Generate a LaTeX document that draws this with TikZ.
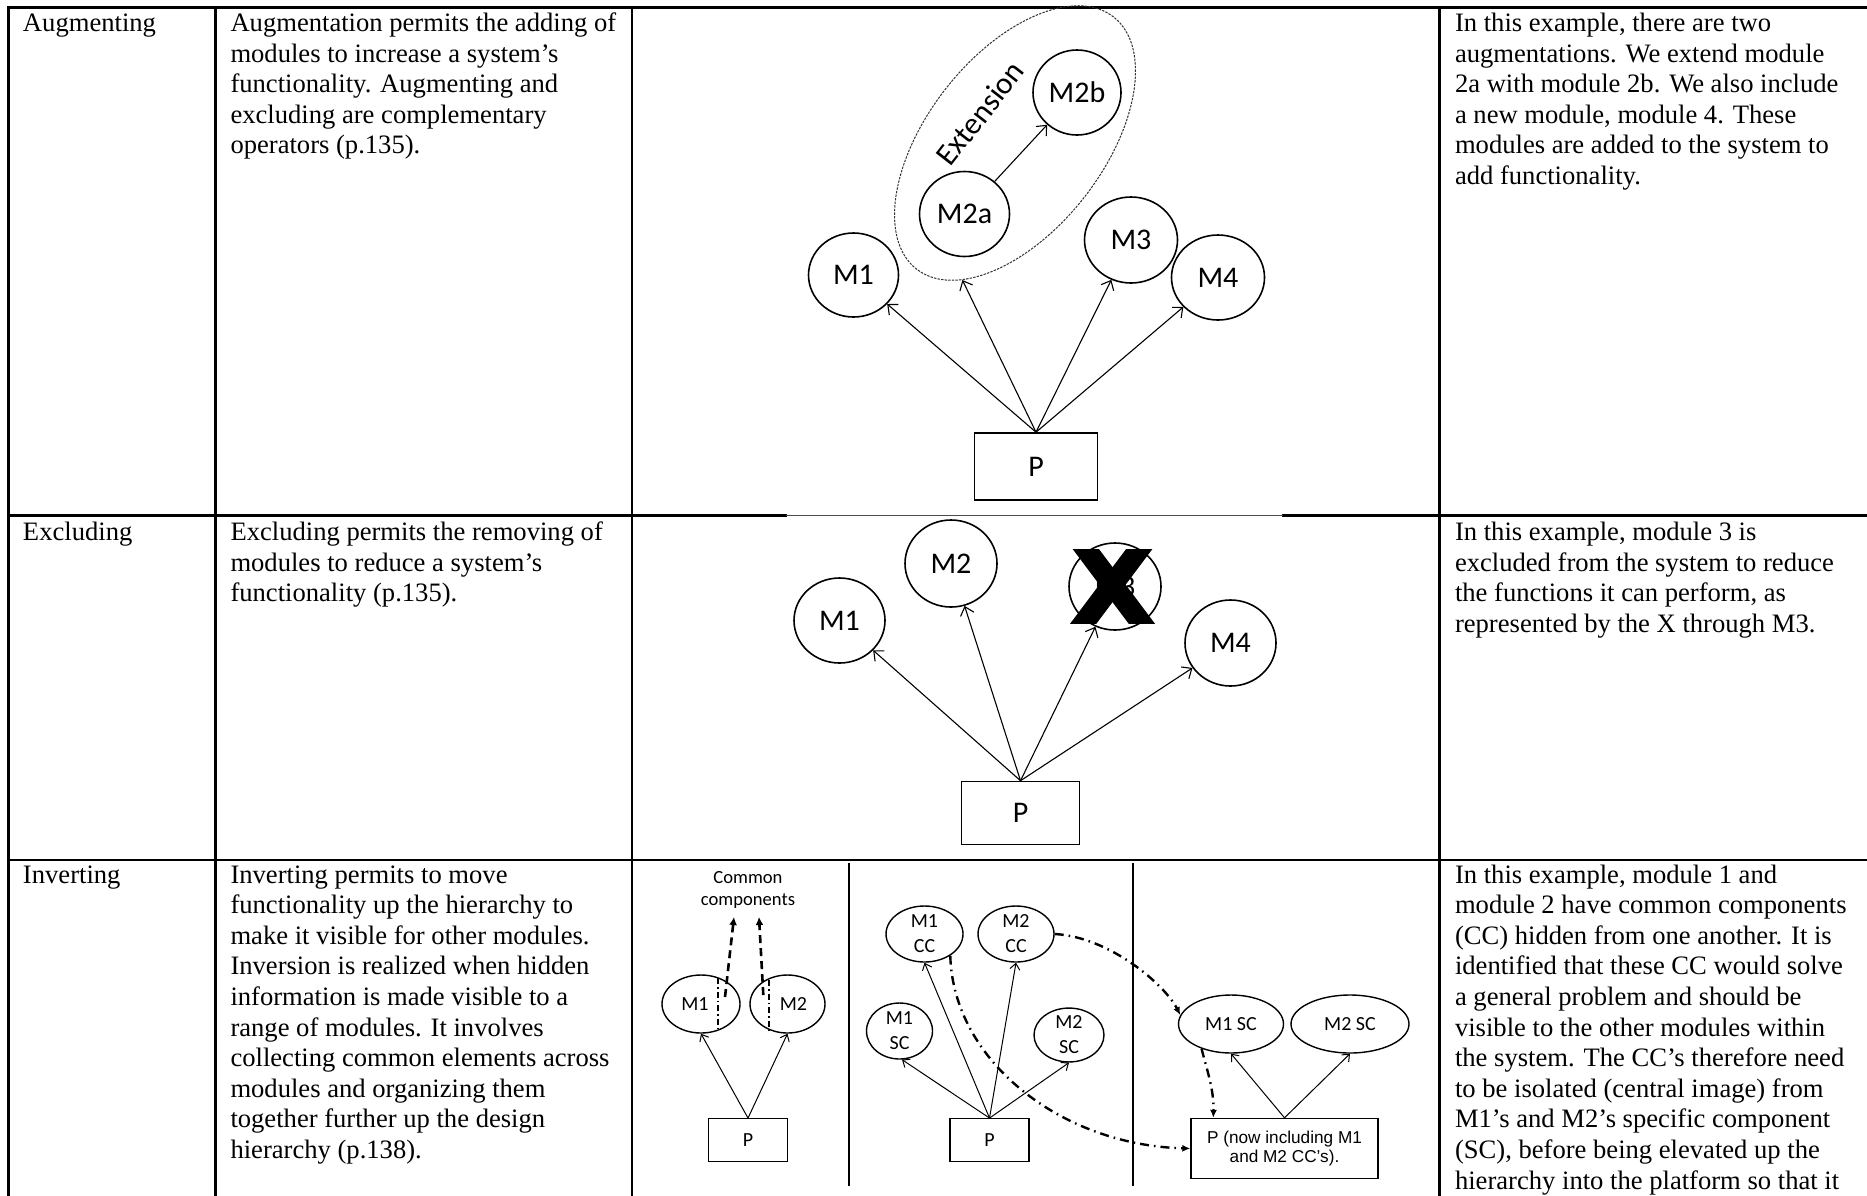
\documentclass[tikz,border=0pt]{standalone}
\usepackage{fontspec}
\setmainfont{Liberation Serif}
\newfontfamily\carl{Carlito}
\newfontfamily\arl{Liberation Sans}
\usetikzlibrary{arrows.meta,shapes.geometric}
\begin{document}
\begin{tikzpicture}[x=0.5pt,y=-0.5pt,
  grid/.style={line width=1.4pt, line cap=rect},
  body/.style={inner sep=0pt, outer sep=0pt, anchor=base west, font=\fontsize{13.3}{15.3}\selectfont},
  mod/.style={draw, ellipse, line width=0.8pt, inner sep=0pt, font=\carl\fontsize{15}{18}\selectfont},
  plat/.style={draw, rectangle, line width=0.8pt, inner sep=0pt, font=\carl\fontsize{15}{18}\selectfont},
  link/.style={line width=0.55pt, -{Straight Barb[length=4pt,width=7pt]}},
  smod/.style={draw, ellipse, line width=0.7pt, inner sep=0pt, align=center, font=\carl\fontsize{10}{12.5}\selectfont},
  splat/.style={draw, rectangle, line width=0.7pt, inner sep=0pt, align=center, font=\carl\fontsize{10}{12}\selectfont},
  slink/.style={line width=0.5pt, -{Straight Barb[length=3pt,width=5pt]}},
  dd/.style={line width=1.2pt, dash pattern=on 4.5pt off 2.5pt on 0.8pt off 2.5pt, -{Latex[length=4pt,width=3.5pt]}},
  cdash/.style={line width=1.3pt, dash pattern=on 4pt off 2.5pt, -{Latex[length=4pt,width=4pt]}},
  vsplit/.style={line width=1.1pt, dash pattern=on 3pt off 1.5pt on 0.8pt off 1.5pt},
]
\useasboundingbox (0,0) rectangle (1867,1195);
\clip (0,0) rectangle (1867,1195);

% ---------- table ----------
\draw[grid] (8.5,7.5) -- (1867,7.5);
\draw[grid] (8.5,7.5) -- (8.5,1195);
\draw[grid] (215.5,7.5) -- (215.5,1195);
\draw[grid] (632,7.5) -- (632,1195);
\draw[grid] (1439.5,7.5) -- (1439.5,1195);
\draw[grid] (8.5,515.5) -- (786,515.5);
\draw[grid] (1283,515.5) -- (1867,515.5);
\draw[line width=0.5pt, black!70] (786,515.5) -- (1283,515.5);
\draw[grid] (8.5,860) -- (1867,860);

% ---------- texts ----------
\node[body] (n1) at (23,31.5) {Augmenting};
\node[body] (n2) at (23,540.5) {Excluding};
\node[body] (n3) at (23,883) {Inverting};

\node[body] (d1) at (230.5,31.5) {\begin{tabular}[t]{@{}l@{}}Augmentation permits the adding of\\modules to increase a system’s\\functionality. Augmenting and\\excluding are complementary\\operators (p.135).\end{tabular}};
\node[body] (d2) at (230.5,540.5) {\begin{tabular}[t]{@{}l@{}}Excluding permits the removing of\\modules to reduce a system’s\\functionality (p.135).\end{tabular}};
\node[body] (d3) at (230.5,883) {\begin{tabular}[t]{@{}l@{}}Inverting permits to move\\functionality up the hierarchy to\\make it visible for other modules.\\Inversion is realized when hidden\\information is made visible to a\\range of modules. It involves\\collecting common elements across\\modules and organizing them\\together further up the design\\hierarchy (p.138).\end{tabular}};

\node[body] (e1) at (1455,31.5) {\begin{tabular}[t]{@{}l@{}}In this example, there are two\\augmentations. We extend module\\2a with module 2b. We also include\\a new module, module 4. These\\modules are added to the system to\\add functionality.\end{tabular}};
\node[body] (e2) at (1455,540.5) {\begin{tabular}[t]{@{}l@{}}In this example, module 3 is\\excluded from the system to reduce\\the functions it can perform, as\\represented by the X through M3.\end{tabular}};
\node[body] (e3) at (1455,883) {\begin{tabular}[t]{@{}l@{}}In this example, module 1 and\\module 2 have common components\\(CC) hidden from one another. It is\\identified that these CC would solve\\a general problem and should be\\visible to the other modules within\\the system. The CC’s therefore need\\to be isolated (central image) from\\M1’s and M2’s specific component\\(SC), before being elevated up the\\hierarchy into the platform so that it\end{tabular}};

% ---------- augmenting ----------
\node[draw, ellipse, rotate=52, minimum width=160pt, minimum height=88pt, inner sep=0pt,
      line width=0.5pt, dash pattern=on 1.2pt off 0.6pt, black!80] (aExt) at (1015,143) {};
\node[rotate=52, inner sep=0pt, font=\carl\fontsize{15.5}{18}\selectfont] (aExtL) at (980,113) {Extension};
\node[mod, minimum width=45pt, minimum height=42pt] (aM1) at (853.5,275) {M1};
\node[mod, minimum width=45pt, minimum height=42.5pt] (aM2a) at (964.5,214) {M2a};
\node[mod, minimum width=44pt, minimum height=42.5pt] (aM2b) at (1077,92.5) {M2b};
\node[mod, minimum width=46.5pt, minimum height=43pt] (aM3) at (1131,240) {M3};
\node[mod, minimum width=46.5pt, minimum height=42.5pt] (aM4) at (1218,277.5) {M4};
\node[plat, minimum width=61.5pt, minimum height=33.5pt] (aP) at (1036,466.5) {P};
\draw[link] (aP.north) -- (aM1);
\draw[link] (aP.north) -- (aExt.197);
\draw[link] (aP.north) -- (aM3);
\draw[link] (aP.north) -- (aM4);
\draw[link] (aM2a) -- (aM2b);

% ---------- excluding ----------
\node[mod, minimum width=45.5pt, minimum height=42.5pt] (eM1) at (839.5,620.5) {M1};
\node[mod, minimum width=46pt, minimum height=43.5pt] (eM2) at (951,563.5) {M2};
\node[mod, minimum width=46pt, minimum height=43.5pt] (eM3) at (1115,586.5) {M3};
\node[mod, minimum width=45.5pt, minimum height=43pt] (eM4) at (1230.5,643) {M4};
\node[plat, minimum width=59pt, minimum height=31.5pt] (eP) at (1020.5,813) {P};
\draw[link] (eP.north) -- (eM1);
\draw[link] (eP.north) -- (eM2);
\draw[link] (eP.north) -- (eM3);
\draw[link] (eP.north) -- (eM4);
\begin{scope}
  \clip (1060,549) rectangle (1170,623);
  \draw[line width=10.5pt] (1079,540) -- (1148,632);
  \draw[line width=10.5pt] (1146,540) -- (1077,632);
\end{scope}

% ---------- inverting ----------
\draw[line width=1pt] (849,863) -- (849,1186);
\draw[line width=1pt] (1133,863) -- (1133,1186);

% panel 1
\node[align=center, inner sep=0pt, font=\carl\fontsize{9.3}{11.4}\selectfont] (cc) at (748,890) {Common\\components};
\node[smod, minimum width=39pt, minimum height=29pt] (i1m1) at (701,1004) {M1\hspace{6pt}};
\node[smod, minimum width=37.5pt, minimum height=29pt] (i1m2) at (787.5,1004) {\hspace{6pt}M2};
\node[splat, minimum width=39.75pt, minimum height=21.25pt] (i1p) at (748,1140) {P};
\draw[slink] (i1p.north) -- (i1m1.south);
\draw[slink] (i1p.north) -- (i1m2.south);
\coordinate (s1a) at (717.7,978); \coordinate (s1b) at (717.7,1030);
\coordinate (s2a) at (769.3,980); \coordinate (s2b) at (769.3,1031.7);
\draw[vsplit] (s1a) -- (s1b);
\draw[vsplit] (s2a) -- (s2b);
\coordinate (u1a) at (725,997); \coordinate (u1b) at (734,917);
\coordinate (u2a) at (763.3,995); \coordinate (u2b) at (759,917);
\draw[cdash] (u1a) -- (u1b);
\draw[cdash] (u2a) -- (u2b);

% panel 2
\node[smod, minimum width=38.5pt, minimum height=28pt] (i2m1cc) at (924.5,934) {M1\\CC};
\node[smod, minimum width=38pt, minimum height=28pt] (i2m2cc) at (1016,934) {M2\\CC};
\node[smod, minimum width=33pt, minimum height=28pt] (i2m1sc) at (899.5,1031) {M1\\SC};
\node[smod, minimum width=35pt, minimum height=26pt] (i2m2sc) at (1069,1035) {M2\\SC};
\node[splat, minimum width=39.5pt, minimum height=21.25pt] (i2p) at (989.5,1140) {P};
\draw[slink] (i2p.north) -- (i2m1sc.-85);
\draw[slink] (i2p.north) -- (i2m1cc.south);
\draw[slink] (i2p.north) -- (i2m2cc.south);
\draw[slink] (i2p.north) -- (i2m2sc.south);

% panel 3
\node[smod, minimum width=52.5pt, minimum height=29pt] (i3m1) at (1231,1024) {M1 SC};
\node[smod, minimum width=59pt, minimum height=29pt] (i3m2) at (1350,1024) {M2 SC};
\node[draw, rectangle, line width=0.7pt, inner sep=0pt, align=center, minimum width=93.5pt, minimum height=30pt,
      font=\arl\fontsize{8.6}{9.6}\selectfont] (i3p) at (1284.5,1148.5) {P (now including M1\\and M2 CC’s).};
\draw[slink] (i3p.north) -- (i3m1.south);
\draw[slink] (i3p.north) -- (i3m2.south);

% dash-dot transfers
\draw[dd] (i2m1cc.-40) .. controls (953,1060) and (1060,1145) .. (i3p.west);
\draw[dd] (i2m2cc.east) .. controls (1110,937) and (1165,985) .. (i3m1.170);
\draw[dd] (i3m1.220) .. controls (1207,1070) and (1214,1090) .. ([xshift=11.5pt]i3p.north west);
\end{tikzpicture}
\end{document}
